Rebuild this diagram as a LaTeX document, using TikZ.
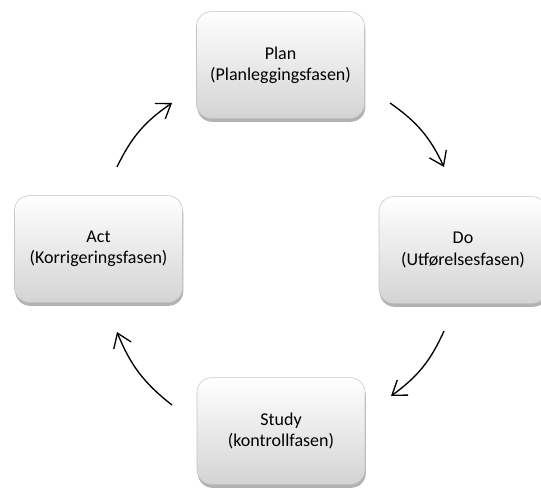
\documentclass[tikz,border=0pt]{standalone}
\usepackage{fontspec}
\setmainfont{Carlito}
\usepackage{tikz}
\usetikzlibrary{arrows.meta,shadows,positioning}
\definecolor{grisClaro}{RGB}{212,212,212}
\definecolor{grisBorde}{RGB}{196,196,196}
\tikzstyle{fase}  =[rectangle, rounded corners=11pt,
                    minimum width=126pt, minimum height=80pt,
                    align=center, top color=white, bottom color=grisClaro,
                    draw=grisBorde, line width=0.4pt,
                    font=\fontsize{13.5}{16}\selectfont,
                    drop shadow={shadow xshift=0.6pt, shadow yshift=-2.6pt,
                                 fill=black, opacity=0.3}]
\tikzstyle{pil}   =[-{Straight Barb[length=10pt,width=14pt]},
                    line width=1pt, bend left=15]
\begin{document}
\begin{tikzpicture}[x=0.75pt,y=-0.75pt]

    \useasboundingbox (0,0) rectangle (541,488);

    \node (plan)  [fase] at (280.5,65)  {Plan\\(Planleggingsfasen)};
    \node (do)    [fase] at (463,250)   {Do\\(Utførelsesfasen)};
    \node (study) [fase] at (281,431)   {Study\\(kontrollfasen)};
    \node (act)   [fase] at (98.5,249)  {Act\\(Korrigeringsfasen)};

    \foreach \n/\sx/\sy/\ex/\ey in {1/117/167/172/103,2/390/103/444/167,
        3/444/331/391/396,4/172/405/117/332}
    {
        \coordinate (s\n) at (\sx,\sy);
        \coordinate (e\n) at (\ex,\ey);
        \draw [pil] (s\n) to (e\n);
    }

\end{tikzpicture}
\end{document}
